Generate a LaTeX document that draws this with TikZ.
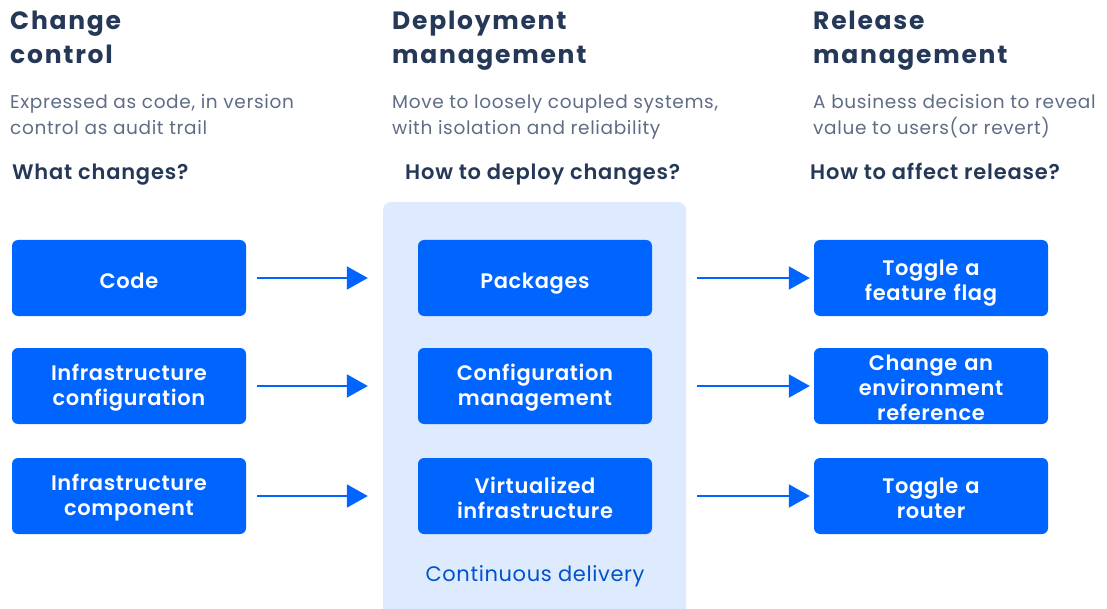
\documentclass[tikz,border=0pt]{standalone}
\usepackage{fontspec}
\setmainfont{Poppins}[BoldFont={Poppins SemiBold}]
\newfontfamily\titlefont{Poppins}[BoldFont={Poppins Bold}]
\usetikzlibrary{arrows.meta}
\definecolor{boxblue}{HTML}{0065FF}
\definecolor{panel}{HTML}{DEEBFF}
\definecolor{heading}{HTML}{253858}
\definecolor{subtext}{HTML}{5E6C84}
\definecolor{cdtext}{HTML}{0052CC}
\tikzset{
  stepbox/.style={fill=boxblue, rounded corners=6pt, minimum width=234pt, minimum height=76pt,
    text width=230pt, align=center, text=white, text height=20pt,
    font=\fontsize{21}{25}\selectfont\bfseries\addfontfeature{LetterSpace=3}, inner sep=0pt},
  oneline/.style={stepbox, text depth=0pt},
  title/.style={anchor=base west, text=heading, font=\titlefont\fontsize{25}{34}\selectfont\bfseries\addfontfeature{LetterSpace=7}, inner sep=0pt},
  sub/.style={anchor=base west, text=subtext, font=\fontsize{18.5}{25}\selectfont\addfontfeature{LetterSpace=3.5}, inner sep=0pt},
  question/.style={anchor=base west, text=heading, font=\fontsize{21}{24}\selectfont\bfseries\addfontfeature{LetterSpace=3.8}, inner sep=0pt},
  flow/.style={draw=boxblue, line width=2pt, -{Triangle[length=21pt,width=23pt]}},
}
\begin{document}
\begin{tikzpicture}[x=1pt,y=-1pt]
\useasboundingbox (0,0) rectangle (1107,609);
% panel
\fill[panel, rounded corners=8pt] (383,202) rectangle (686,620);
% headings
\node[title] (t1a) at (10,30) {Change};
\node[title] (t1b) at (10,64) {control};
\node[title] (t2a) at (392,30) {Deployment};
\node[title] (t2b) at (392,64) {management};
\node[title] (t3a) at (813,30) {Release};
\node[title] (t3b) at (813,64) {management};
\node[sub] (s1a) at (10,109) {Expressed as code, in version};
\node[sub] (s1b) at (10,135) {control as audit trail};
\node[sub] (s2a) at (392,109) {Move to loosely coupled systems,};
\node[sub] (s2b) at (392,135) {with isolation and reliability};
\node[sub] (s3a) at (813,109) {A business decision to reveal};
\node[sub] (s3b) at (813,135) {value to users(or revert)};
\node[question] (q1) at (12,180) {What changes?};
\node[question] (q2) at (405,180) {How to deploy changes?};
\node[question] (q3) at (810,180) {How to affect release?};
% boxes
\node[oneline] (c1) at (129,278) {Code};
\node[stepbox] (c2) at (129,386) {Infrastructure\\configuration};
\node[stepbox] (c3) at (129,496) {Infrastructure\\component};
\node[oneline] (d1) at (535,278) {Packages};
\node[stepbox] (d2) at (535,386) {Configuration\\management};
\node[stepbox] (d3) at (535,496) {Virtualized\\infrastructure};
\node[stepbox, text height=26pt] (r1) at (931,278) {Toggle a\\feature flag};
\node[stepbox] (r2) at (931,386) {Change an\\environment\\reference};
\node[stepbox] (r3) at (931,496) {Toggle a\\router};
\node[text=cdtext, anchor=base, font=\fontsize{21}{24}\selectfont\addfontfeature{LetterSpace=3}, inner sep=0pt] (cd) at (535,581) {Continuous delivery};
% arrows
\foreach \a/\b in {c1/d1,c2/d2,c3/d3}
  \draw[flow, shorten <=11pt, shorten >=50pt] (\a.east) -- (\b.west);
\foreach \a/\b in {d1/r1,d2/r2,d3/r3}
  \draw[flow, shorten <=45pt, shorten >=4pt] (\a.east) -- (\b.west);
\end{tikzpicture}
\end{document}
